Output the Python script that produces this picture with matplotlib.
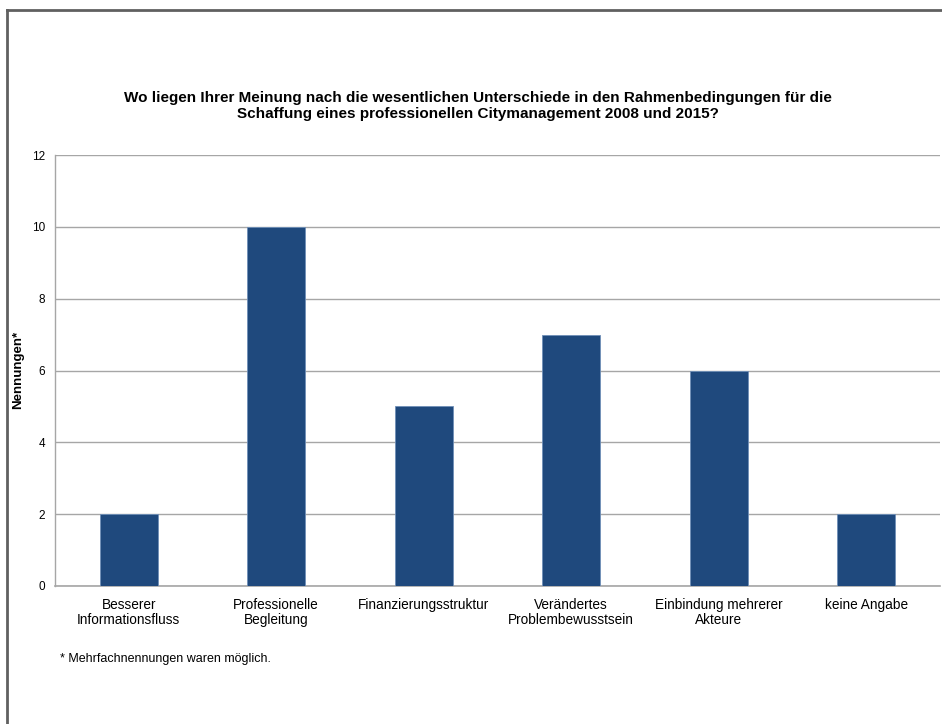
#!/usr/bin/env python3
"""Bar chart: Unterschiede in den Rahmenbedingungen 2008 vs 2015."""
import matplotlib as mpl
import matplotlib.pyplot as plt
from matplotlib.lines import Line2D

mpl.rcParams["font.family"] = ["Liberation Sans", "DejaVu Sans"]

categories = [
    "Besserer\nInformationsfluss",
    "Professionelle\nBegleitung",
    "Finanzierungsstruktur",
    "Verändertes\nProblembewusstsein",
    "Einbindung mehrerer\nAkteure",
    "keine Angabe",
]
values = [2, 10, 5, 7, 6, 2]
yticks = [0, 2, 4, 6, 8, 10, 12]

W, H = 942, 724
fig = plt.figure(figsize=(W / 100, H / 100), dpi=100)
ax = fig.add_axes([55 / W, 1 - 586 / H, 885 / W, (586 - 155) / H])

x = range(len(categories))
ax.bar(x, values, width=0.39, color="#1F497D", edgecolor="#6F8FB8",
       linewidth=0.6, zorder=3)

ax.set_xlim(-0.5, len(categories) - 0.5)
ax.set_ylim(0, 12)
ax.set_yticks(yticks)
ax.set_xticks(list(x))
ax.set_xticklabels(categories, fontsize=9.8, linespacing=1.1)
ax.tick_params(axis="y", length=0, pad=7.2, labelsize=8.5)
ax.tick_params(axis="x", length=0, pad=8.8)
ax.grid(axis="y", color="#A6A6A6", linewidth=1.0, zorder=0)
for s in ("top", "right"):
    ax.spines[s].set_visible(False)
ax.spines["left"].set_color("#A6A6A6")
ax.spines["bottom"].set_color("#A6A6A6")
ax.spines["left"].set_linewidth(1.0)
ax.spines["bottom"].set_linewidth(1.2)

fig.text(18 / W, 1 - 370 / H, "Nennungen*", rotation=90, ha="center",
         va="center", fontsize=9.5, fontweight="bold")
fig.text(478 / W, 1 - 106 / H,
         "Wo liegen Ihrer Meinung nach die wesentlichen Unterschiede in den "
         "Rahmenbedingungen für die\nSchaffung eines professionellen "
         "Citymanagement 2008 und 2015?",
         ha="center", va="center", fontsize=11, fontweight="bold",
         linespacing=1.22)
fig.text(60 / W, 1 - 659 / H, "* Mehrfachnennungen waren möglich.",
         ha="left", va="center", fontsize=9)

# outer frame (left and top edges)
fig.add_artist(Line2D([6.5 / W, 6.5 / W], [0, 1 - 9.5 / H],
                      transform=fig.transFigure, color="#606060", lw=2))
fig.add_artist(Line2D([6.5 / W, 1], [1 - 9.5 / H, 1 - 9.5 / H],
                      transform=fig.transFigure, color="#606060", lw=2))

fig.savefig("out.png", dpi=100)
